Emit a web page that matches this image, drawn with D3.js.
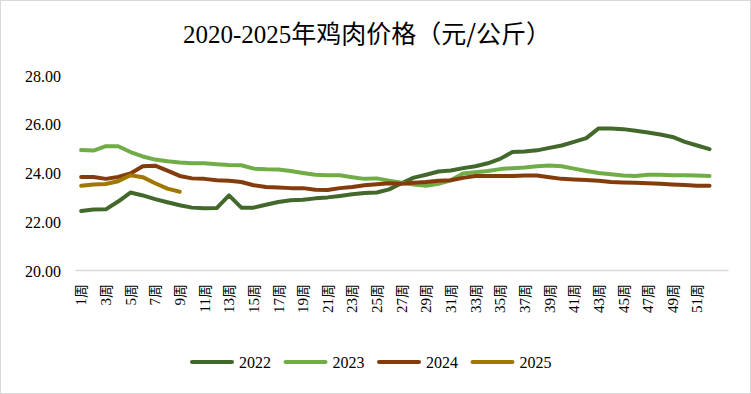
<!DOCTYPE html>
<html lang="en">
<head>
<meta charset="utf-8">
<script src="https://cdn.jsdelivr.net/npm/d3@7"></script>
</head>
<body style="margin:0">
<script>
// weeks on the category axis (53 slots, data for 52)
var weeks = d3.range(1, 54);
var tickWeeks = [1, 3, 5, 7, 9, 11, 13, 15, 17, 19, 21, 23, 25, 27, 29, 31, 33, 35, 37, 39, 41, 43, 45, 47, 49, 51];
var yTicks = [20, 22, 24, 26, 28];

var s2022 = [22.46, 22.52, 22.53, 22.85, 23.22, 23.10, 22.95, 22.82, 22.70, 22.60,
             22.57, 22.58, 23.10, 22.60, 22.60, 22.72, 22.83, 22.90, 22.92, 22.98,
             23.02, 23.08, 23.15, 23.20, 23.22, 23.35, 23.60, 23.83, 23.95, 24.08,
             24.12, 24.22, 24.30, 24.42, 24.60, 24.88, 24.90, 24.95, 25.05, 25.15,
             25.30, 25.45, 25.85, 25.85, 25.82, 25.75, 25.68, 25.60, 25.50, 25.30,
             25.15, 25.00];
var s2023 = [24.96, 24.94, 25.12, 25.12, 24.88, 24.70, 24.57, 24.50, 24.45, 24.42,
             24.42, 24.38, 24.35, 24.34, 24.20, 24.17, 24.16, 24.10, 24.02, 23.95,
             23.93, 23.93, 23.85, 23.78, 23.80, 23.70, 23.62, 23.55, 23.50, 23.58,
             23.72, 24.00, 24.05, 24.10, 24.18, 24.22, 24.25, 24.30, 24.33, 24.30,
             24.20, 24.10, 24.02, 23.97, 23.92, 23.90, 23.95, 23.95, 23.93, 23.93,
             23.92, 23.90];
var s2024 = [23.86, 23.86, 23.78, 23.86, 24.00, 24.30, 24.32, 24.12, 23.90, 23.80,
             23.78, 23.72, 23.70, 23.65, 23.52, 23.45, 23.43, 23.40, 23.40, 23.33,
             23.32, 23.40, 23.45, 23.52, 23.56, 23.60, 23.58, 23.62, 23.65, 23.70,
             23.72, 23.82, 23.90, 23.90, 23.90, 23.90, 23.92, 23.92, 23.85, 23.78,
             23.75, 23.73, 23.70, 23.65, 23.63, 23.62, 23.60, 23.58, 23.55, 23.53,
             23.50, 23.50];
var s2025 = [23.50, 23.55, 23.57, 23.68, 23.93, 23.85, 23.60, 23.38, 23.25];

var seriesNames = ["2022", "2023", "2024", "2025"];
var seriesColors = ["#43682B", "#70AD47", "#843C0C", "#A07800"];

var FONT = "Liberation Serif";
var CJK = "Noto Sans CJK SC";

var W = 751, H = 394;
var svg = d3.select("body").append("svg")
  .attr("width", W).attr("height", H);

svg.append("rect")
  .attr("x", 0.5).attr("y", 0.5)
  .attr("width", W - 1).attr("height", H - 1)
  .attr("fill", "#fff")
  .attr("stroke", "#d9d9d9");

// title: latin part and CJK part in separate spans
var title = svg.append("text")
  .attr("x", 367).attr("y", 43)
  .attr("text-anchor", "middle")
  .style("font-size", "25px");
title.append("tspan").style("font-family", FONT).text("2020-2025");
title.append("tspan").style("font-family", CJK).text("年鸡肉价格（元/公斤）");

var xScale = d3.scaleBand().domain(weeks).range([75, 728]);
var yScale = d3.scaleLinear().domain([20, 28]).range([271, 76]);

// y labels (no axis line, no gridlines)
var yAxis = d3.axisLeft(yScale)
  .tickValues(yTicks)
  .tickSize(0)
  .tickPadding(0)
  .tickFormat(d3.format(".2f"));
svg.append("g")
  .attr("transform", "translate(61,0)")
  .call(yAxis)
  .call(function(g){ g.select(".domain").remove(); })
  .selectAll("text")
  .style("font-family", FONT)
  .style("font-size", "16px")
  .attr("fill", "#000");

// x axis: number and 周 in separate spans
var xAxis = d3.axisBottom(xScale)
  .tickValues(tickWeeks)
  .tickSize(0)
  .tickPadding(0)
  .tickFormat("");
var xg = svg.append("g")
  .attr("transform", "translate(0,270)")
  .call(xAxis);
xg.select(".domain").attr("stroke", "#d9d9d9").attr("stroke-width", 1.5);
var xt = xg.selectAll(".tick text")
  .style("font-size", "15px")
  .attr("fill", "#000")
  .attr("text-anchor", "end")
  .attr("dy", "0.35em")
  .attr("transform", "translate(0,14) rotate(-90)")
  .attr("x", 0).attr("y", 0);
xt.append("tspan").style("font-family", FONT).text(function(d){ return d; });
xt.append("tspan").style("font-family", CJK).style("font-size", "14px").text("周");

var line = d3.line()
  .x(function(d, i){ return xScale(weeks[i]) + xScale.bandwidth() / 2; })
  .y(function(d){ return yScale(d); });

var allSeries = [s2022, s2023, s2024, s2025];
svg.append("g").selectAll("path")
  .data(allSeries)
  .enter()
  .append("path")
  .attr("d", line)
  .attr("fill", "none")
  .attr("stroke", function(d, i){ return seriesColors[i]; })
  .attr("stroke-width", 4)
  .attr("stroke-linejoin", "round")
  .attr("stroke-linecap", "round");

// legend
var legend = svg.append("g").attr("transform", "translate(190,362)");
var item = legend.selectAll("g")
  .data(seriesNames)
  .enter()
  .append("g")
  .attr("transform", function(d, i){ return "translate(" + (i * 93.5) + ",0)"; });
item.append("line")
  .attr("x1", 2).attr("x2", 42)
  .attr("y1", 0).attr("y2", 0)
  .attr("stroke", function(d, i){ return seriesColors[i]; })
  .attr("stroke-width", 4)
  .attr("stroke-linecap", "round");
item.append("text")
  .attr("x", 49).attr("y", 5.5)
  .style("font-family", FONT)
  .style("font-size", "16px")
  .text(function(d){ return d; });
</script>
</body>
</html>
